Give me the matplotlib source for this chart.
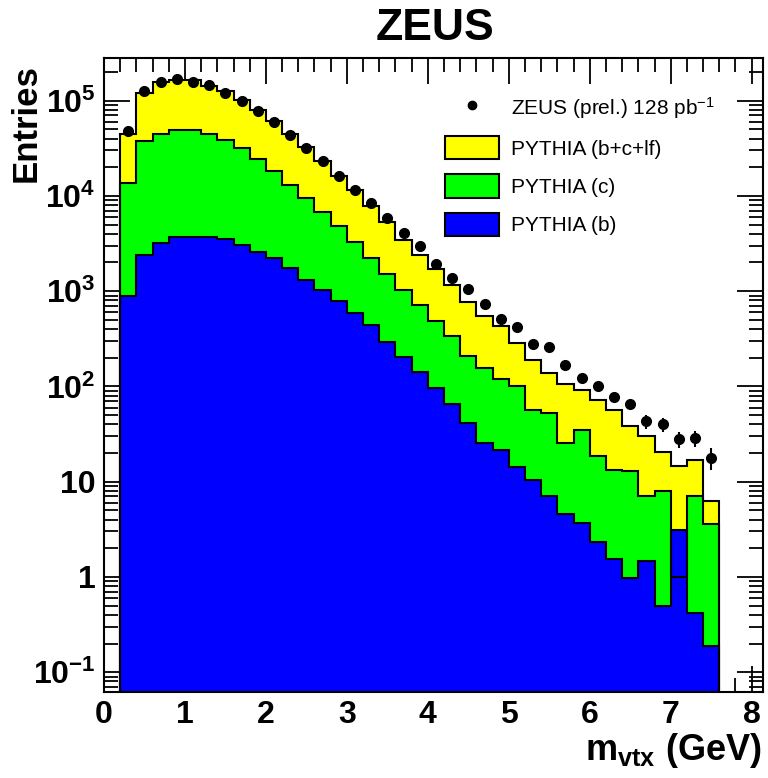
import numpy as np
import matplotlib
matplotlib.use("Agg")
import matplotlib.pyplot as plt
from matplotlib.lines import Line2D
from matplotlib.patches import Patch
from matplotlib.ticker import FixedLocator, LogLocator, MultipleLocator, NullFormatter

plt.rcParams['font.family'] = ['Liberation Sans', 'DejaVu Sans']
plt.rcParams['mathtext.fontset'] = 'custom'
plt.rcParams['mathtext.rm'] = 'Liberation Sans:bold'
plt.rcParams['mathtext.sf'] = 'Liberation Sans'
plt.rcParams['mathtext.default'] = 'rm'

# m_vtx bins (GeV), 0.2 wide from 0.2 to 7.6
edges = np.linspace(0.2, 7.6, 38)
centers = 0.5 * (edges[:-1] + edges[1:])

# PYTHIA b+c+lf (yellow)
mc_all = [45000, 120000, 156000, 166000, 163000, 144000, 125000, 102000, 80000, 60700,
          45000, 32600, 23000, 16300, 11600, 7760, 5270, 3470, 2410, 1710,
          1170, 761, 542, 433, 285, 190, 138, 106, 92, 72,
          57, 38, 30, 20.4, 14.7, 17, 6.3]
# PYTHIA c (green)
mc_c = [13600, 37400, 45000, 48700, 48700, 45000, 38900, 31800, 24400, 18100,
        13100, 9500, 6700, 4790, 3250, 2230, 1500, 1035, 720, 481,
        340, 210, 155, 119, 100, 57, 52, 25.7, 35, 18.4,
        13.3, 12.8, 7.0, 7.9, 1.0, 7.1, 3.6]
# PYTHIA b (blue)
mc_b = [900, 2410, 3200, 3700, 3700, 3700, 3550, 3070, 2550, 2230,
        1750, 1320, 1035, 780, 589, 437, 292, 206, 140, 96,
        66, 41, 25.7, 21.6, 14.4, 10.4, 7.1, 4.6, 3.67, 2.35,
        1.55, 0.97, 1.48, 0.49, 3.12, 0.42, 0.19]
# ZEUS data and errors
data = [48400, 125000, 157000, 169000, 157000, 145000, 120000, 98000, 77000, 59200,
        43200, 31900, 23000, 16300, 11600, 8410, 5860, 4075, 2950, 1940,
        1370, 1060, 737, 509, 416, 280, 259, 169, 122, 100,
        78, 66, 43, 40, 28, 28.7, 17.9]
data_err = [220, 354, 396, 411, 396, 381, 346, 313, 277, 243,
            208, 179, 152, 128, 108, 92, 77, 64, 54, 44,
            37, 33, 27, 23, 20, 17, 16, 13, 11, 10,
            9, 8, 7, 6.5, 5.5, 5.5, 4.5]

fig = plt.figure(figsize=(7.68, 7.78), dpi=100)
ax = fig.add_axes([104/768, 1-692/778, (763-104)/768, (692-58)/778])
ax.set_yscale('log')

base = 1e-3
for vals, col in [(mc_all, '#ffff00'), (mc_c, '#00ff00'), (mc_b, '#0000ff')]:
    ax.stairs(vals, edges, fill=True, color=col, baseline=base, zorder=2)
    ax.stairs(vals, edges, fill=False, color='k', lw=1.5, baseline=base, zorder=3)

ax.errorbar(centers, data, yerr=data_err, fmt='o', color='k', ms=7,
            elinewidth=1.5, capsize=0, zorder=4)

ax.set_xlim(0, 8.14)
ax.set_ylim(0.062, 2.8e5)

ax.xaxis.set_major_locator(MultipleLocator(1))
ax.xaxis.set_minor_locator(MultipleLocator(0.2))
ax.yaxis.set_major_locator(FixedLocator([0.1, 1, 10, 100, 1e3, 1e4, 1e5]))
ax.yaxis.set_minor_locator(LogLocator(base=10, subs=np.arange(2, 10), numticks=20))
ax.yaxis.set_minor_formatter(NullFormatter())
ax.set_yticklabels([r'10$^{-1}$', '1', '10', r'10$^{2}$', r'10$^{3}$', r'10$^{4}$', r'10$^{5}$'])
ax.set_xticks(range(9))
ax.set_xticklabels([str(i) for i in range(9)])

ax.tick_params(which='both', direction='in', top=True, right=True, width=1.3,
               labelsize=23)
ax.tick_params(which='major', length=19, pad=6)
ax.tick_params(which='minor', length=10)
for lab in ax.get_xticklabels() + ax.get_yticklabels():
    lab.set_fontweight('bold')
for s in ax.spines.values():
    s.set_linewidth(1.5)
    s.set_zorder(5)

fig.text(435/768, 1-28/778, 'ZEUS', ha='center', va='center', fontsize=32, weight='bold')
fig.text(26/768, 1-123/778, 'Entries', rotation=90, ha='center', va='center',
         fontsize=25, weight='bold')
fig.text(762/768, 1-750/778, r'$\mathrm{m_{vtx}}$ (GeV)', ha='right', va='center',
         fontsize=26, weight='bold')

handles = [Line2D([], [], marker='o', color='k', ls='none', ms=6),
           Patch(facecolor='#ffff00', edgecolor='k', lw=1.5),
           Patch(facecolor='#00ff00', edgecolor='k', lw=1.5),
           Patch(facecolor='#0000ff', edgecolor='k', lw=1.5)]
labels = [r'ZEUS (prel.) 128 pb$^{\mathsf{-1}}$', 'PYTHIA (b+c+lf)', 'PYTHIA (c)', 'PYTHIA (b)']
ax.legend(handles, labels, loc='upper left', bbox_to_anchor=(445/768, 1-95/778),
          bbox_transform=fig.transFigure, frameon=False, fontsize=15,
          handlelength=2.6, handleheight=1.35, labelspacing=0.72, handletextpad=0.58,
          borderpad=0, borderaxespad=0)

fig.savefig('out.png', dpi=100)
